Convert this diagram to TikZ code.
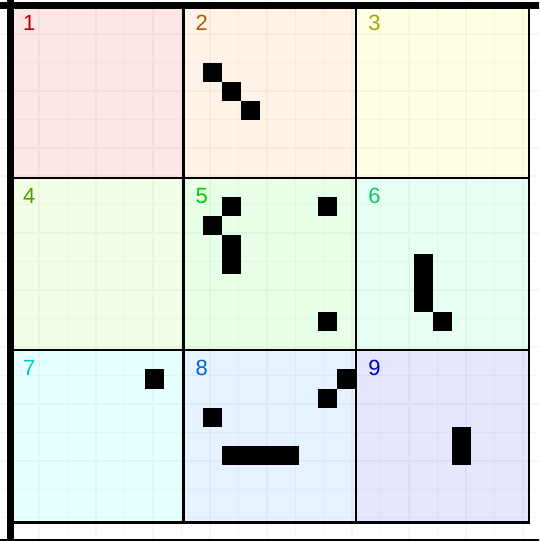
\documentclass[tikz,border=0pt]{standalone}
\usepackage{fontspec}
\setmainfont{Liberation Sans}
\definecolor{f1}{RGB}{255,230,230}
\definecolor{f2}{RGB}{255,242,230}
\definecolor{f3}{RGB}{255,255,230}
\definecolor{f4}{RGB}{242,255,230}
\definecolor{f5}{RGB}{230,255,230}
\definecolor{f6}{RGB}{230,255,242}
\definecolor{f7}{RGB}{230,255,255}
\definecolor{f8}{RGB}{230,242,255}
\definecolor{f9}{RGB}{230,230,255}
\definecolor{t1}{RGB}{180,0,0}
\definecolor{t2}{RGB}{179,89,0}
\definecolor{t3}{RGB}{166,166,0}
\definecolor{t4}{RGB}{77,160,0}
\definecolor{t5}{RGB}{0,204,0}
\definecolor{t6}{RGB}{0,204,102}
\definecolor{t7}{RGB}{0,204,204}
\definecolor{t8}{RGB}{0,102,204}
\definecolor{t9}{RGB}{0,0,204}
\tikzset{
  faintgrid/.style={draw=black, draw opacity=0.035, line width=1.5pt},
  cellline/.style={draw=black, line width=2.4pt},
  borderline/.style={draw=black, line width=6.5pt},
  blk/.style={fill=black},
  lab/.style={anchor=base west, inner sep=0pt, font=\fontsize{22}{26}\selectfont},
}
\begin{document}
\begin{tikzpicture}[x=19.19pt,y=-19.15pt]
\useasboundingbox (-0.558,-0.287) rectangle (27.53,27.96);
\clip (-0.558,-0.287) rectangle (27.53,27.96);
\fill[white] (-1,-1) rectangle (29,29);
% cell fills
\foreach \n/\cx/\cy in {1/0/0,2/9/0,3/18/0,4/0/9,5/9/9,6/18/9,7/0/18,8/9/18,9/18/18}{
  \fill[f\n] (\cx,\cy) rectangle ++(9,9);
}
% faint grid
\draw[faintgrid] (-1,-1) grid (29,29);
% black squares
\fill[blk] (10,3) rectangle ++(1,1);
\fill[blk] (11,4) rectangle ++(1,1);
\fill[blk] (12,5) rectangle ++(1,1);
\fill[blk] (11,10) rectangle ++(1,1);
\fill[blk] (10,11) rectangle ++(1,1);
\fill[blk] (11,12) rectangle ++(1,2);
\fill[blk] (16,10) rectangle ++(1,1);
\fill[blk] (16,16) rectangle ++(1,1);
\fill[blk] (21,13) rectangle ++(1,3);
\fill[blk] (22,16) rectangle ++(1,1);
\fill[blk] (7,19) rectangle ++(1,1);
\fill[blk] (17,19) rectangle ++(1,1);
\fill[blk] (16,20) rectangle ++(1,1);
\fill[blk] (10,21) rectangle ++(1,1);
\fill[blk] (11,23) rectangle ++(4,1);
\fill[blk] (23,22) rectangle ++(1,2);
% cell lines
\draw[cellline] (0,0) rectangle (27,27);
\draw[cellline] (9,0) -- (9,27) (18,0) -- (18,27) (0,9) -- (27,9) (0,18) -- (27,18);
% thick border
\draw[borderline] (0,-1) -- (0,29) (-1,0) -- (29,0) (-1,28) -- (29,28) (28,-1) -- (28,29);
% labels
\foreach \n/\cx/\cy in {1/0/0,2/9/0,3/18/0,4/0/9,5/9/9,6/18/9,7/0/18,8/9/18,9/18/18}{
  \node[lab, text=t\n] (l\n) at (\cx+0.63,\cy+1.33) {\n};
}
\end{tikzpicture}
\end{document}
